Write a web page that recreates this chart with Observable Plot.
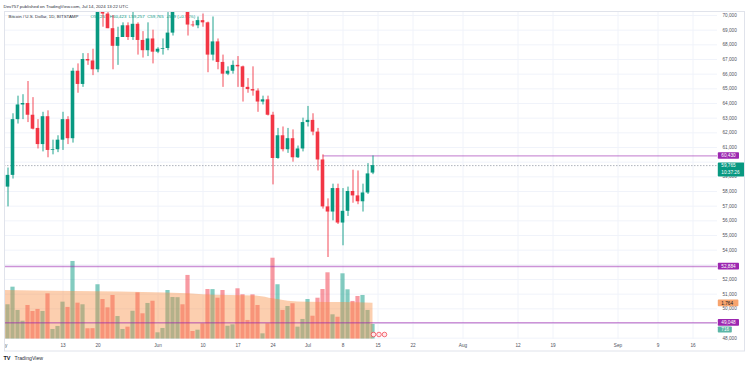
<!DOCTYPE html>
<html><head><meta charset="utf-8">
<script src="https://cdn.jsdelivr.net/npm/d3@7"></script>
<script src="https://cdn.jsdelivr.net/npm/@observablehq/plot@0.6"></script>
<style>
body{margin:0;background:#fff;}
#wrap{position:relative;width:750px;height:366px;overflow:hidden;font-family:"Liberation Sans",Arial,sans-serif;background:#fff;}
#wrap svg{position:absolute;left:0;top:0;}
</style></head><body><div id="wrap"></div>
<script>
// ---------------- data ----------------
const startDate = "2024-05-01"; // first daily candle, one candle per day
const open  = [60600,58300,59100,62900,63900,64000,63200,62300,61200,63100,60800,60850,61500,62900,61600,66200,65300,67000,66900,66300,71400,70100,69100,67900,68500,69300,68500,69400,68300,67600,68400,67500,67700,67750,68800,70600,71100,70800,69350,69300,69650,69500,67300,68200,66800,66000,66200,66600,66500,65100,64950,64850,64100,64250,63200,60250,61800,60850,61600,60300,60900,62700,62850,62050,60150,56950,56600,58200,55850,56650,58000,57700,57300,57900,59257];
const high  = [60800,59600,63300,64500,64600,65500,64400,62900,63400,63500,61500,61800,63400,63100,66400,66700,67400,67400,67700,71500,71900,70600,70000,69200,69500,69500,70600,69500,68900,69500,69000,67800,68400,70200,71000,71700,71600,71900,69600,69900,70100,69550,69900,68400,67300,66500,66900,67200,66550,65700,66500,65000,64500,64500,63400,62300,62400,62300,62200,61100,63000,63800,63300,62300,60500,57500,58500,58500,58200,58300,59450,59400,58500,59900,60423];
const low   = [56550,56950,58850,62600,62900,62700,62200,60900,60700,60300,60500,60650,60800,61200,61300,64700,65100,66600,65900,66100,69200,69100,66300,66600,68500,68300,68300,67300,67100,67200,66700,67400,67300,67600,68600,70400,70200,68600,69200,69100,69200,66100,66900,66300,65100,65900,66000,65100,64100,64700,64500,63400,63900,63150,58450,60200,60700,60600,60000,60250,60700,62400,61800,59400,56800,53500,56000,55750,54300,56300,57200,57100,56600,57800,59150];
const close = [58300,59100,62900,63900,64000,63200,62250,61200,63100,60800,60850,61500,62900,61600,66200,65300,67000,66900,66300,71400,70100,69100,67900,68500,69300,68500,69400,68300,67600,68400,67500,67700,67750,68800,70600,71100,70800,69350,69300,69650,69500,67300,68200,66800,66000,66200,66600,66500,65100,64950,64850,64100,64250,63200,60250,61800,60850,61600,60300,60900,62700,62850,62050,60150,56950,56600,58200,55850,56650,58000,57700,57300,57900,59200,59765];
const volume = [3480,1690,2560,1410,880,1655,1360,1460,1360,2230,470,620,1820,1560,3830,1770,1690,505,510,2680,1950,1540,2150,1110,470,585,1370,2280,1245,1755,1865,305,520,2395,2050,2040,1690,3140,370,435,750,2445,2440,2015,2395,630,700,2480,2185,915,2180,1655,255,750,3990,2680,1410,1605,1740,585,965,1950,1125,2015,2445,3270,1195,1075,3220,2430,1855,2100,2150,1410,716];
// volume moving-average area, read at a few days (day index from startDate)
const maDay   = [0,19,37,40,51,54,57,61,68,74];
const maValue = [2400,2330,2235,2185,2115,1985,1870,1820,1800,1764];
// key horizontal levels
const levelPrice = [60430,52884,49048];
const levelStart = ["2024-07-04",null,null];
// axis ticks (grid at every tick; labels hidden under the price tags are left out)
const priceTicks = [48000,49000,50000,51000,52000,53000,54000,55000,56000,57000,58000,59000,60000,61000,62000,63000,64000,65000,66000,67000,68000,69000,70000];
const priceTickLabels = [48000,50000,51000,52000,54000,55000,56000,57000,58000,59000,61000,62000,63000,64000,65000,66000,67000,68000,69000,70000];
const timeTickDates  = ["2024-05-01","2024-05-13","2024-05-20","2024-06-01","2024-06-10","2024-06-17","2024-06-24","2024-07-01","2024-07-08","2024-07-15","2024-07-22","2024-08-01","2024-08-12","2024-08-19","2024-09-01","2024-09-09","2024-09-16"];
const timeTickLabels = ["May","13","20","Jun","10","17","24","Jul","8","15","22","Aug","12","19","Sep","9","16"];
const eventDays = [74.1,75.2,76.3];
const lastPrice = 59765, lastTime = "10:37:26", lastVolume = 716, maLast = 1764;

// ---------------- build ----------------
const DAY = 864e5;
const t0 = new Date(startDate).getTime();
const rows = open.map((o,i)=>({date:new Date(t0+i*DAY), o, h:high[i], l:low[i], c:close[i], v:volume[i], up: close[i]>=o}));
const maRows = maDay.map((d,i)=>({date:new Date(t0+d*DAY), v:maValue[i]}));
const ticks = timeTickDates.map((d,i)=>({date:new Date(d), label:timeTickLabels[i]}));
const events = eventDays.map(d=>({date:new Date(t0+d*DAY)}));
const levels = levelPrice.map((p,i)=>({p, from: levelStart[i]? new Date(levelStart[i]) : null}));

const W=750,H=366,mL=4,mR=33,mT=11,mB=15;
const xDomain=[new Date(t0+0.3*DAY), new Date(t0+142.9*DAY)];
const priceDomain=[47091,70273];
const volDomain=[-618,16179];
const GREEN="#089981", RED="#F23645", PURPLE="#9C27B0";
const FONT='"Liberation Sans", Arial, sans-serif';
const base = {width:W,height:H,marginLeft:mL,marginRight:mR,marginTop:mT,marginBottom:mB,
  style:{background:"transparent",fontFamily:FONT,overflow:"visible"}};

// layer 1: grid + header texts
const gridPlot = Plot.plot({...base,
  x:{type:"utc",domain:xDomain,axis:null},
  y:{domain:priceDomain,axis:null},
  marks:[
    Plot.ruleY(priceTicks,{stroke:"#f0f3fa",strokeWidth:1}),
    Plot.ruleX(ticks,{x:"date",y1:47909,y2:priceDomain[1],stroke:"#f0f3fa",strokeWidth:1,clip:true}),
    Plot.text(["Dev757 published on TradingView.com, Jul 14, 2024 13:22 UTC"],{frameAnchor:"top-left",text:d=>d,dx:-1,dy:-5,lineAnchor:"middle",fontSize:4.4,fill:"#2a2e39"}),
    Plot.text(["Bitcoin / U.S. Dollar, 1D, BITSTAMP"],{frameAnchor:"top-left",text:d=>d,dx:4,dy:5.5,lineAnchor:"middle",fontSize:4.4,fill:"#2a2e39"}),
    Plot.text(["O59,257  H60,423  L59,257  C59,765  +509 (+0.91%)"],{frameAnchor:"top-left",text:d=>d,dx:86,dy:5.5,lineAnchor:"middle",fontSize:4.4,fill:GREEN}),
    Plot.text(["TV"],{frameAnchor:"bottom-left",text:d=>d,dx:-1,dy:7,lineAnchor:"middle",fontSize:5.5,fontWeight:"bold",fill:"#131722"}),
    Plot.text(["TradingView"],{frameAnchor:"bottom-left",text:d=>d,dx:10,dy:7,lineAnchor:"middle",fontSize:5.2,fill:"#2a2e39"})
  ]});

// layer 2: volume
const volPlot = Plot.plot({...base,
  x:{type:"utc",domain:xDomain,axis:null},
  y:{domain:volDomain,axis:null},
  color:{type:"identity"},
  marks:[
    Plot.rect(rows,{x1:d=>new Date(+d.date-0.42*DAY),x2:d=>new Date(+d.date+0.42*DAY),y1:0,y2:"v",fill:d=>d.up?GREEN:RED,fillOpacity:0.5,clip:true}),
    Plot.areaY(maRows,{x:"date",y:"v",fill:"#F98C40",fillOpacity:0.42,curve:"monotone-x",clip:true}),
    Plot.dot(events,{x:"date",frameAnchor:"bottom",dy:-17,r:2.3,fill:"#fde8ea",stroke:RED,strokeWidth:0.7,clip:true})
  ]});

// layer 3: price
const pricePlot = Plot.plot({...base,
  x:{type:"utc",domain:xDomain,axis:null},
  y:{domain:priceDomain,axis:null},
  color:{type:"identity"},
  marks:[
    Plot.ruleY([lastPrice],{stroke:"#9aa0aa",strokeWidth:0.8,strokeDasharray:"1.5,1.5"}),
    Plot.ruleY(levels,{y:"p",x1:d=>d.from??xDomain[0],x2:xDomain[1],stroke:PURPLE,strokeOpacity:0.5,strokeWidth:1.4,clip:true}),
    Plot.ruleX(rows,{x:"date",y1:"l",y2:"h",stroke:d=>d.up?GREEN:RED,strokeWidth:0.9,clip:true}),
    Plot.rect(rows,{x1:d=>new Date(+d.date-0.36*DAY),x2:d=>new Date(+d.date+0.36*DAY),y1:"o",y2:"c",fill:d=>d.up?GREEN:RED,clip:true}),
    Plot.axisY(priceTickLabels,{anchor:"right",tickSize:0,tickPadding:5,tickFormat:d3.format(","),fontSize:4.7,fill:"#50535e",textAnchor:"start"}),
    Plot.text(ticks,{x:"date",text:"label",frameAnchor:"bottom",dy:-6,lineAnchor:"middle",fontSize:4.7,fill:"#50535e",clip:true})
  ]});

const wrap=document.getElementById("wrap");
wrap.append(gridPlot, volPlot, pricePlot);

// price / volume tags on the right axis, positioned with the plots' own scales
const ys = pricePlot.scale("y"), yv = volPlot.scale("y");
const svg = d3.select(pricePlot);
function tag(top, h, w, bg, fg, lines){
  const g = svg.append("g");
  g.append("rect").attr("x",717.8).attr("y",top).attr("width",w).attr("height",h).attr("rx",0.8).attr("fill",bg);
  lines.forEach(([t,dy])=>g.append("text").attr("x",721.3).attr("y",top+dy).attr("dy","0.35em")
    .attr("text-anchor","start").style("font-size","4.7px").style("font-family",FONT).attr("fill",fg).text(t));
}
levelPrice.forEach(p=>{ const y=ys.apply(p); tag(y-3.2,6.6,21.2,PURPLE,"#fff",[[d3.format(",")(p),3.3]]); });
{ const y=ys.apply(lastPrice); tag(y-2.5,14,26.5,GREEN,"#fff",[[d3.format(",")(lastPrice),3],[lastTime,10]]); }
{ const y=yv.apply(maLast); tag(y-3.2,6.6,20.6,"#F7A46E","#131722",[[d3.format(",")(maLast).replace(",","."),3.3]]); }
{ const y=yv.apply(lastVolume)+5.5; tag(y-3,6,14,"#5bb6a6","#fff",[[String(lastVolume),3]]); }
// chart frame
svg.append("rect").attr("x",4.5).attr("y",11.5).attr("width",740).attr("height",339.5).attr("fill","none").attr("stroke","#e0e3eb").attr("stroke-width",1);
</script></body></html>
